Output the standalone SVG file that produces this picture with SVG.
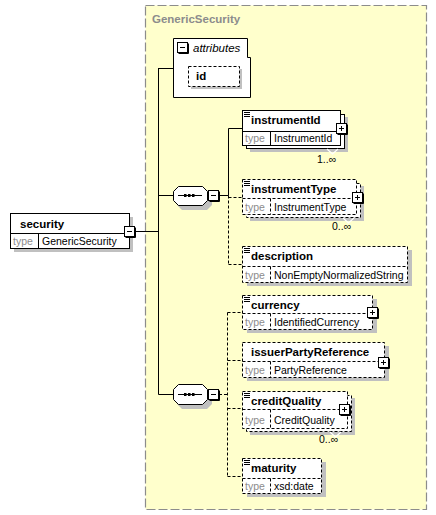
<svg xmlns="http://www.w3.org/2000/svg" width="436" height="515" viewBox="0 0 436 515">
<style>
.bg{fill:#FFFFCC;stroke:#8C8C8C;stroke-width:1.2;stroke-dasharray:9,3}
.box{fill:#fff;stroke:#000;stroke-width:1}
.dbox{fill:#fff;stroke:#000;stroke-width:1;stroke-dasharray:3,2}
.sh{fill:#C0C0C0}
.ln{stroke:#000;stroke-width:1;fill:none}
.dl{stroke:#000;stroke-width:1;fill:none;stroke-dasharray:3,2}
.nm{font-family:"Liberation Sans",Arial,sans-serif;font-weight:bold;font-size:11.5px;fill:#000}
.ty{font-family:"Liberation Sans",Arial,sans-serif;font-size:10.5px;fill:#8C8C8C}
.tv{font-family:"Liberation Sans",Arial,sans-serif;font-size:10.5px;fill:#000}
.oc{font-family:"Liberation Sans",Arial,sans-serif;font-size:10.5px;fill:#000}
.btn{fill:#fff;stroke:#000;stroke-width:1}
</style>
<defs>
<g id="icon"><path d="M0,0.5H6M0,2.5H6M0,4.5H6" stroke="#000" stroke-width="1"/></g>
<g id="plus"><rect class="btn" x="0.5" y="0.5" width="10" height="10"/><path d="M1.5,11.5H11.5V1.5" stroke="#000" stroke-width="1" fill="none"/><path d="M3,5.5H8M5.5,3V8" stroke="#000" stroke-width="1"/></g>
<g id="minus"><rect class="btn" x="0.5" y="0.5" width="10" height="10"/><path d="M1.5,11.5H11.5V1.5" stroke="#000" stroke-width="1" fill="none"/><path d="M3,5.5H8" stroke="#000" stroke-width="1"/></g>
</defs>

<g id="GenericSecurity">
<rect class="bg" x="145.5" y="5.5" width="281" height="504"/>
<text x="152" y="23" font-family="Liberation Sans,Arial,sans-serif" font-weight="bold" font-size="11.5" fill="#8C8C8C">GenericSecurity</text>
</g>

<g id="connectors">
<path class="ln" d="M136,231.5H158.5M158.5,68V394.5M158.5,68.5H173M158.5,195.5H173M158.5,394.5H173"/>
<path class="ln" d="M219,195.5H228.5M228.5,195.5V128.5H242"/>
<path class="dl" d="M228.5,195.5V264.5M228.5,197.5H242M228.5,264.5H242"/>
<path class="dl" d="M219,394.5H227.5M227.5,312.5V476.5M227.5,312.5H242M227.5,360.5H242M227.5,408.5H242M227.5,476.5H242"/>
</g>

<g id="attributes">
<path class="box" d="M173.5,38.5H247.5V57.5H250.5V97.5H173.5Z"/>
<use href="#minus" x="177" y="42"/>
<text x="193" y="52" font-family="Liberation Sans,Arial,sans-serif" font-style="italic" font-size="11.5" fill="#000">attributes</text>
<rect class="sh" x="191" y="69" width="51" height="20"/>
<rect class="dbox" x="188.5" y="66.5" width="51" height="20"/>
<text class="nm" x="196" y="80">id</text>
</g>

<g id="security">
<rect class="sh" x="14" y="217" width="119" height="35"/>
<rect class="box" x="10.5" y="213.5" width="119" height="35"/>
<path class="ln" d="M10.5,233.5H129.5M38.5,233.5V248.5"/>
<text class="nm" x="20" y="228">security</text>
<text class="ty" x="13" y="245">type</text>
<text class="tv" x="42" y="245">GenericSecurity</text>
<use href="#minus" x="124" y="226"/>
</g>

<g id="sequence1">
<polygon class="sh" points="182,190 207,190 212,195 212,205 207,210 182,210 177,205 177,195"/>
<polygon class="box" points="178.5,186.5 202.5,186.5 207.5,191.5 207.5,200.5 202.5,205.5 178.5,205.5 173.5,200.5 173.5,191.5"/>
<path class="ln" d="M178,195.5H202"/>
<rect x="184" y="194" width="2.5" height="3" fill="#000"/><rect x="188" y="194" width="2.5" height="3" fill="#000"/><rect x="192" y="194" width="2.5" height="3" fill="#000"/>
<use href="#minus" x="208" y="190"/>
</g>

<g id="sequence2">
<polygon class="sh" points="182,389 207,389 212,394 212,404 207,409 182,409 177,404 177,394"/>
<polygon class="box" points="178.5,384.5 202.5,384.5 207.5,389.5 207.5,399.5 202.5,404.5 178.5,404.5 173.5,399.5 173.5,389.5"/>
<path class="ln" d="M178,394.5H202"/>
<rect x="184" y="393" width="2.5" height="3" fill="#000"/><rect x="188" y="393" width="2.5" height="3" fill="#000"/><rect x="192" y="393" width="2.5" height="3" fill="#000"/>
<use href="#minus" x="208" y="389"/>
</g>

<g id="instrumentId">
<rect class="sh" x="250" y="117" width="98" height="35"/>
<rect class="box" x="246.5" y="114.5" width="98" height="34"/>
<rect class="box" x="242.5" y="110.5" width="98" height="35"/>
<path class="ln" d="M242.5,131.5H340.5M270.5,131.5V145.5"/>
<use href="#icon" x="244" y="112"/>
<text class="nm" x="251" y="124">instrumentId</text>
<text class="ty" x="245" y="142">type</text>
<text class="tv" x="274" y="142">InstrumentId</text>
<use href="#plus" x="336" y="123"/>
<polyline points="327,149 332.5,154 338,149" fill="none" stroke="#fff" stroke-width="1.2"/>
<text class="oc" x="317" y="163">1..∞</text>
</g>

<g id="instrumentType">
<rect class="sh" x="250" y="186" width="114" height="35"/>
<rect class="dbox" x="246.5" y="183.5" width="114" height="34"/>
<rect class="dbox" x="242.5" y="179.5" width="114" height="35"/>
<path class="dl" d="M242.5,198.5H356.5M270.5,198.5V214.5"/>
<use href="#icon" x="244" y="181"/>
<text class="nm" x="251" y="193">instrumentType</text>
<text class="ty" x="245" y="211">type</text>
<text class="tv" x="274" y="211">InstrumentType</text>
<use href="#plus" x="352" y="192"/>
<polyline points="343,218 348.5,223 354,218" fill="none" stroke="#fff" stroke-width="1.2"/>
<text class="oc" x="332" y="230">0..∞</text>
</g>

<g id="description">
<rect class="sh" x="247" y="250" width="165" height="36"/>
<rect class="dbox" x="242.5" y="246.5" width="165" height="36"/>
<path class="dl" d="M242.5,266.5H407.5M270.5,266.5V282.5"/>
<use href="#icon" x="244" y="248"/>
<text class="nm" x="251" y="260">description</text>
<text class="ty" x="245" y="279">type</text>
<text class="tv" x="274" y="279">NonEmptyNormalizedString</text>
</g>

<g id="currency">
<rect class="sh" x="247" y="299" width="130" height="34"/>
<rect class="dbox" x="242.5" y="295.5" width="130" height="34"/>
<path class="dl" d="M242.5,313.5H372.5M270.5,313.5V329.5"/>
<use href="#icon" x="244" y="297"/>
<text class="nm" x="251" y="309">currency</text>
<text class="ty" x="245" y="326">type</text>
<text class="tv" x="274" y="326">IdentifiedCurrency</text>
<use href="#plus" x="367" y="307"/>
</g>

<g id="issuerPartyReference">
<rect class="sh" x="247" y="346" width="142" height="35"/>
<rect class="dbox" x="242.5" y="342.5" width="142" height="35"/>
<path class="dl" d="M242.5,361.5H384.5M270.5,361.5V377.5"/>
<text class="nm" x="251" y="356">issuerPartyReference</text>
<text class="ty" x="245" y="374">type</text>
<text class="tv" x="274" y="374">PartyReference</text>
<use href="#plus" x="378" y="357"/>
</g>

<g id="creditQuality">
<rect class="sh" x="250" y="398" width="105" height="37"/>
<rect class="dbox" x="246.5" y="395.5" width="105" height="36"/>
<rect class="dbox" x="242.5" y="391.5" width="105" height="37"/>
<path class="dl" d="M242.5,409.5H347.5M270.5,409.5V428.5"/>
<use href="#icon" x="244" y="393"/>
<text class="nm" x="251" y="405">creditQuality</text>
<text class="ty" x="245" y="424">type</text>
<text class="tv" x="274" y="424">CreditQuality</text>
<use href="#plus" x="339" y="404"/>
<polyline points="330,432 335.5,437 341,432" fill="none" stroke="#fff" stroke-width="1.2"/>
<text class="oc" x="319" y="443">0..∞</text>
</g>

<g id="maturity">
<rect class="sh" x="247" y="462" width="79" height="35"/>
<rect class="dbox" x="242.5" y="458.5" width="79" height="35"/>
<path class="dl" d="M242.5,478.5H321.5M270.5,478.5V493.5"/>
<use href="#icon" x="244" y="460"/>
<text class="nm" x="251" y="472">maturity</text>
<text class="ty" x="245" y="490">type</text>
<text class="tv" x="274" y="490">xsd:date</text>
</g>
</svg>
